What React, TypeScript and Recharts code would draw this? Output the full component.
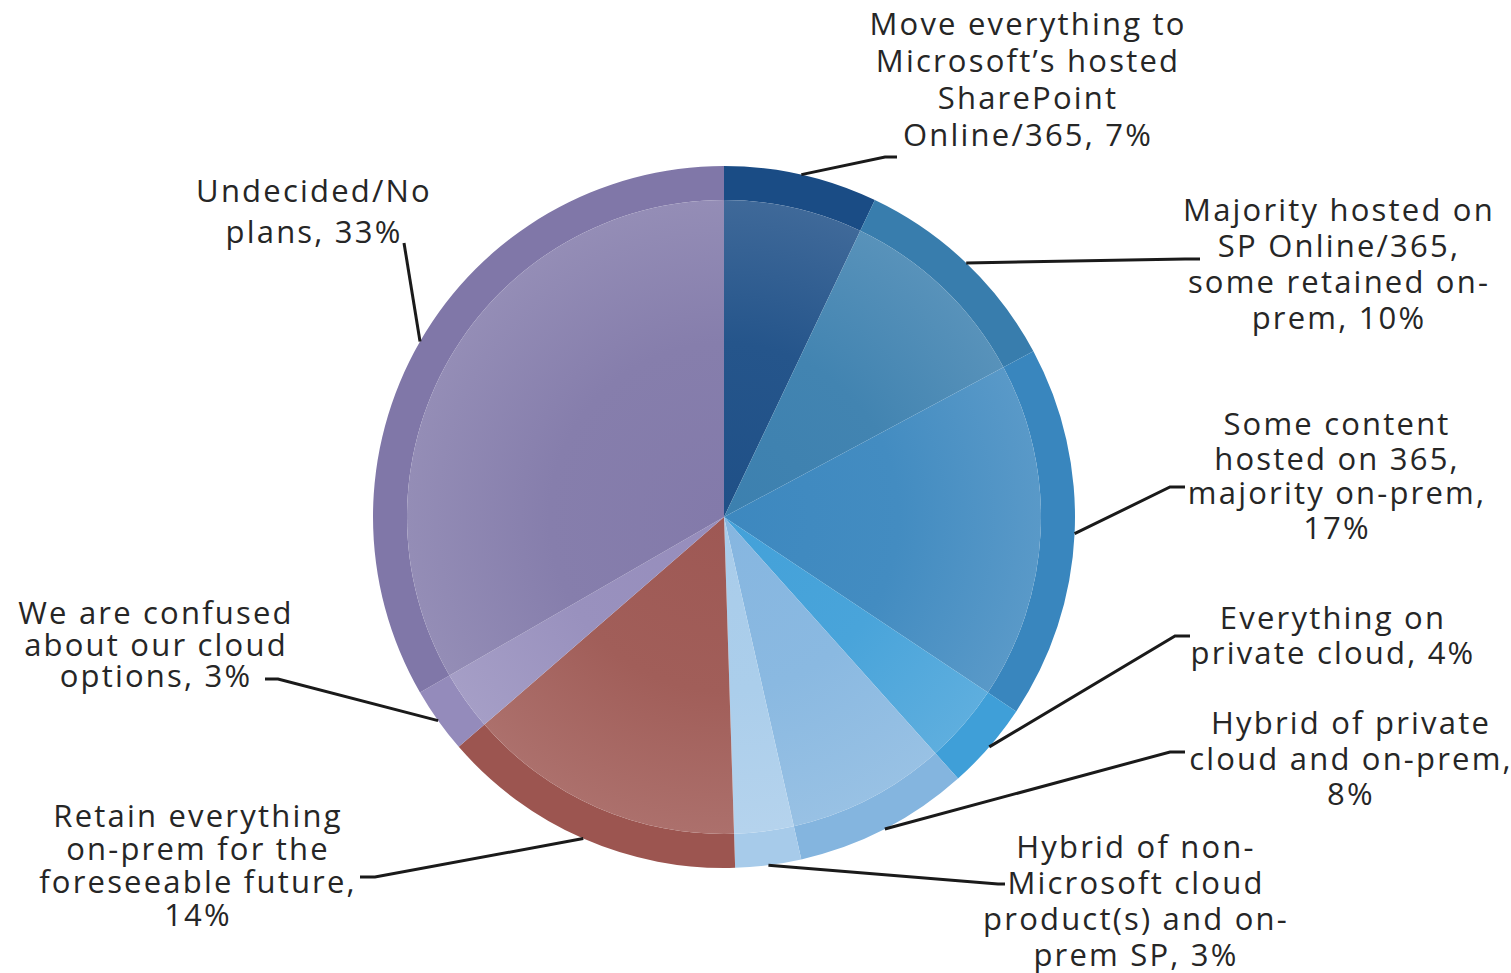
import { PieChart, Pie, Cell } from "recharts";

// slice labels, one string per line
const categories = [
  ["Move everything to", "Microsoft\u2019s hosted", "SharePoint", "Online/365, 7%"],
  ["Majority hosted on", "SP Online/365,", "some retained on-", "prem, 10%"],
  ["Some content", "hosted on 365,", "majority on-prem,", "17%"],
  ["Everything on", "private cloud, 4%"],
  ["Hybrid of private", "cloud and on-prem,", "8%"],
  ["Hybrid of non-", "Microsoft cloud", "product(s) and on-", "prem SP, 3%"],
  ["Retain everything", "on-prem for the", "foreseeable future,", "14%"],
  ["We are confused", "about our cloud", "options, 3%"],
  ["Undecided/No", "plans, 33%"],
];

const values = [7, 10, 17, 4, 8, 3, 14, 3, 33];

const ringColors = [
  "#1A4C85",
  "#387DAD",
  "#3986BE",
  "#3F9FD8",
  "#84B5DF",
  "#A7CBEA",
  "#9C5550",
  "#948BBB",
  "#8077A8",
];

// label placement: text centre x, first line y, line height, leader elbow and end
const labelLayout = [
  { x: 1027, y: 23, lh: 37, elbow: [885, 157], end: [897, 157] },
  { x: 1338, y: 209, lh: 36, elbow: [1185, 259], end: [1200, 259] },
  { x: 1336, y: 423, lh: 34.5, elbow: [1170, 487], end: [1185, 487] },
  { x: 1332, y: 617, lh: 35, elbow: [1175, 636], end: [1190, 636] },
  { x: 1350, y: 722, lh: 35.5, elbow: [1170, 752], end: [1185, 752] },
  { x: 1135, y: 846, lh: 36, elbow: [998, 884], end: [1005, 884] },
  { x: 197, y: 815, lh: 33, elbow: [375, 877], end: [360, 877] },
  { x: 155, y: 612, lh: 31.5, elbow: [278, 679], end: [265, 679] },
  { x: 313, y: 190, lh: 41, elbow: [404, 243], end: [404, 243] },
];

const CX = 724;
const CY = 517;
const OUTER = 351;
const INNER = 317;
const RAD = Math.PI / 180;

const data = values.map((value, i) => ({ name: categories[i].join(" "), value }));

function mix(hex: string, target: string, t: number) {
  const a = parseInt(hex.slice(1), 16);
  const b = parseInt(target.slice(1), 16);
  const ch = (n: number, s: number) => (n >> s) & 255;
  const r = Math.round(ch(a, 16) + (ch(b, 16) - ch(a, 16)) * t);
  const g = Math.round(ch(a, 8) + (ch(b, 8) - ch(a, 8)) * t);
  const bl = Math.round(ch(a, 0) + (ch(b, 0) - ch(a, 0)) * t);
  return "#" + ((1 << 24) | (r << 16) | (g << 8) | bl).toString(16).slice(1);
}

// eslint-disable-next-line @typescript-eslint/no-explicit-any
function renderLabel(props: any) {
  const { cx, cy, midAngle, outerRadius, index } = props;
  const layout = labelLayout[index];
  const sx = cx + outerRadius * Math.cos(-midAngle * RAD);
  const sy = cy + outerRadius * Math.sin(-midAngle * RAD);
  const [ex, ey] = layout.elbow;
  const [tx, ty] = layout.end;
  return (
    <g key={`label-${index}`}>
      <path
        d={`M${sx},${sy}L${ex},${ey}L${tx},${ty}`}
        stroke="#1a1a1a"
        strokeWidth={3}
        fill="none"
      />
      <text
        x={layout.x}
        y={layout.y}
        textAnchor="middle"
        fill="#262626"
        fontSize={31}
        letterSpacing={2.2}
        fontFamily="'Open Sans', sans-serif"
      >
        {categories[index].map((line, j) => (
          <tspan key={j} x={layout.x + 1} y={layout.y + j * layout.lh} dominantBaseline="central">
            {line}
          </tspan>
        ))}
      </text>
    </g>
  );
}

export default function App() {
  return (
    <div style={{ position: "absolute", left: 0, top: 0, background: "#fff" }}>
      <PieChart width={1511} height={973} margin={{ top: 0, right: 0, bottom: 0, left: 0 }}>
        <defs>
          {ringColors.map((c, i) => (
            <radialGradient
              key={i}
              id={`inner-${i}`}
              gradientUnits="userSpaceOnUse"
              cx={CX}
              cy={CY}
              r={INNER}
            >
              <stop offset="0%" stopColor={mix(c, "#ffffff", 0.02)} />
              <stop offset="55%" stopColor={mix(c, "#ffffff", 0.05)} />
              <stop offset="100%" stopColor={mix(c, "#ffffff", 0.16)} />
            </radialGradient>
          ))}
        </defs>
        <Pie
          data={data}
          dataKey="value"
          cx={CX}
          cy={CY}
          innerRadius={INNER}
          outerRadius={OUTER}
          startAngle={90}
          endAngle={-270}
          stroke="none"
          isAnimationActive={false}
          labelLine={false}
          label={renderLabel}
        >
          {data.map((_, i) => (
            <Cell key={i} fill={ringColors[i]} />
          ))}
        </Pie>
        <Pie
          data={data}
          dataKey="value"
          cx={CX}
          cy={CY}
          innerRadius={0}
          outerRadius={INNER}
          startAngle={90}
          endAngle={-270}
          stroke="none"
          isAnimationActive={false}
        >
          {data.map((_, i) => (
            <Cell key={i} fill={`url(#inner-${i})`} />
          ))}
        </Pie>
      </PieChart>
    </div>
  );
}
